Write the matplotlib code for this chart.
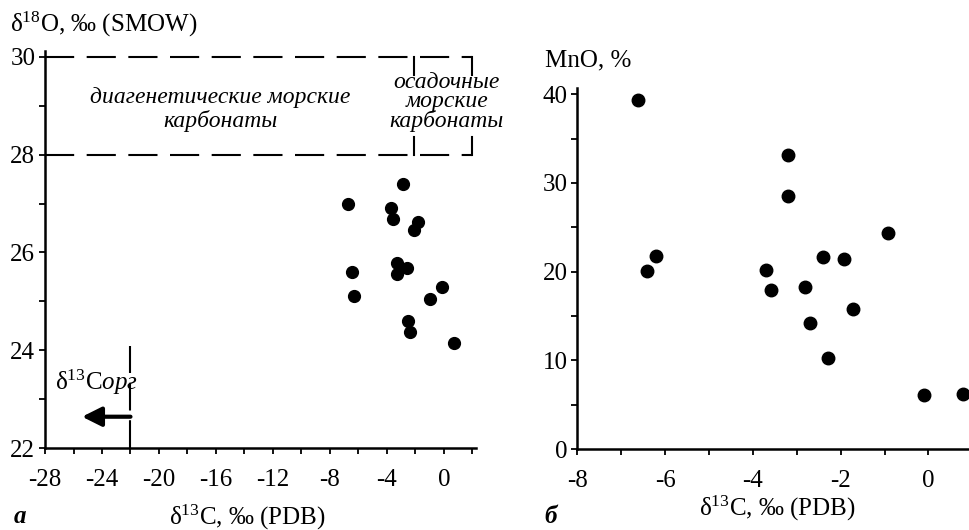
import matplotlib

matplotlib.use("Agg")
import matplotlib.pyplot as plt
from matplotlib.ticker import MultipleLocator

plt.rcParams["font.family"] = ["Liberation Serif", "DejaVu Serif"]
plt.rcParams["mathtext.fontset"] = "custom"
plt.rcParams["mathtext.rm"] = "Liberation Serif"
plt.rcParams["mathtext.it"] = "Liberation Serif:italic"
plt.rcParams["lines.scale_dashes"] = False
plt.rcParams["axes.unicode_minus"] = False

# panel a: d13C vs d18O
c13_a = [-2.86, -6.72, -3.74, -3.60, -1.80, -2.11, -3.32, -2.58,
         -3.28, -6.48, -6.32, -0.16, -0.98, -2.51, -2.39, 0.72]
o18_a = [27.40, 26.99, 26.90, 26.68, 26.62, 26.46, 25.79, 25.68,
         25.55, 25.59, 25.10, 25.29, 25.04, 24.60, 24.37, 24.15]

# panel b: d13C vs MnO
c13_b = [-6.61, -3.19, -3.19, -0.92, -6.21, -6.41, -3.71, -3.59,
         -2.41, -1.92, -2.81, -2.69, -1.71, -2.28, -0.10, 0.79]
mno_b = [39.3, 33.1, 28.5, 24.4, 21.8, 20.1, 20.2, 17.9,
         21.6, 21.4, 18.3, 14.2, 15.8, 10.3, 6.1, 6.2]

# reference fields on panel a
box_x = [-28, 1.96]
box_y = [28, 30]
split_x = -2.1
corg_x = -22

FS = 18
LW = 1.8

fig = plt.figure(figsize=(9.7, 5.3), dpi=100)
axa = fig.add_axes([0.0464, 0.1547, 0.4443, 0.7491])
axb = fig.add_axes([0.5952, 0.1528, 0.4049, 0.6811])

for ax in (axa, axb):
    ax.spines["top"].set_visible(False)
    ax.spines["right"].set_visible(False)
    for s in ("left", "bottom"):
        ax.spines[s].set_linewidth(LW)
    ax.tick_params(which="both", direction="out", length=4, width=1.3,
                   labelsize=FS)
    ax.tick_params(axis="x", pad=11)
    ax.tick_params(axis="y", pad=3)

# --- panel a ---
axa.set_xlim(-28, 2.25)
axa.set_ylim(22, 30.12)
axa.xaxis.set_major_locator(MultipleLocator(4))
axa.xaxis.set_minor_locator(MultipleLocator(2))
axa.yaxis.set_major_locator(MultipleLocator(2))
axa.yaxis.set_minor_locator(MultipleLocator(1))

for yv in box_y:
    axa.plot(box_x, [yv, yv], color="black", lw=1.5, dashes=(21, 9),
             clip_on=False)
for xv in (split_x, box_x[1]):
    axa.plot([xv, xv], [29.63, 30], color="black", lw=1.5, clip_on=False)
    axa.plot([xv, xv], [28, 28.36], color="black", lw=1.5, clip_on=False)

axa.plot([corg_x, corg_x], [22, 24.08], color="black", lw=1.5, dashes=(20, 7))
axa.annotate("", xy=(-25.4, 22.64), xytext=(corg_x, 22.64),
             arrowprops=dict(arrowstyle="-|>,head_length=0.9,head_width=0.45",
                             mutation_scale=13, lw=3, color="black",
                             shrinkA=0, shrinkB=0))
axa.text(-27.3, 23.35, "δ$^{\\mathregular{13}}$C$\\mathit{орг}$", fontsize=FS,
         va="center", ha="left")

axa.text(-15.7, 28.92, "диагенетические морские\nкарбонаты", fontsize=17,
         style="italic", ha="center", va="center", linespacing=1.1)
axa.text(0.21, 29.08, "осадочные\nморские\nкарбонаты", fontsize=17,
         style="italic", ha="center", va="center", linespacing=0.88,
         clip_on=False)

axa.plot(c13_a, o18_a, "o", color="black", ms=8.5, clip_on=False)

fig.text(0.2546, 0.0245, "δ$^{\\mathregular{13}}$C, ‰ (PDB)", fontsize=FS,
         ha="center", va="center")
fig.text(0.010, 0.953, "δ$^{\\mathregular{18}}$O, ‰ (SMOW)", fontsize=FS,
         ha="left", va="center")
fig.text(0.021, 0.026, "а", fontsize=FS, fontweight="bold", style="italic",
         ha="center", va="center")

# --- panel b ---
axb.set_xlim(-8, 0.95)
axb.set_ylim(0, 40.7)
axb.xaxis.set_major_locator(MultipleLocator(2))
axb.xaxis.set_minor_locator(MultipleLocator(1))
axb.yaxis.set_major_locator(MultipleLocator(10))
axb.yaxis.set_minor_locator(MultipleLocator(5))

axb.plot(c13_b, mno_b, "o", color="black", ms=9, clip_on=False)

fig.text(0.801, 0.0415, "δ$^{\\mathregular{13}}$C, ‰ (PDB)", fontsize=FS,
         ha="center", va="center")
fig.text(0.562, 0.885, "MnO, %", fontsize=FS, ha="left", va="center")
fig.text(0.568, 0.026, "б", fontsize=FS, fontweight="bold", style="italic",
         ha="center", va="center")

fig.savefig("out.png", dpi=100)
